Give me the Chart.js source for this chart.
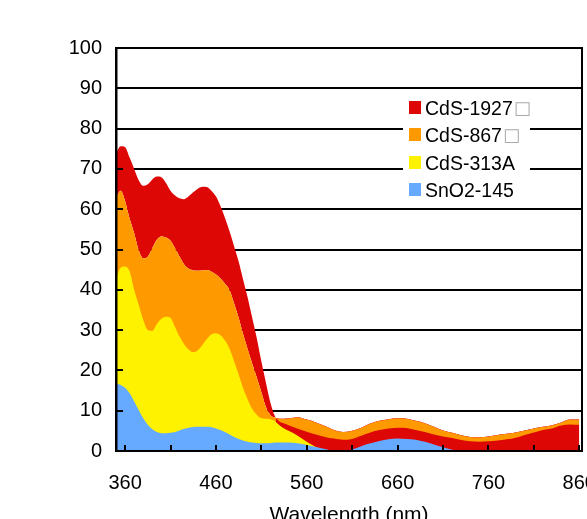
<!DOCTYPE html>
<html>
<head>
<meta charset="utf-8">
<script src="https://cdn.jsdelivr.net/npm/chart.js@4.4.1/dist/chart.umd.min.js"></script>
<style>
  html, body { margin: 0; padding: 0; background: #fff; overflow: hidden; }
  #wrap { position: relative; width: 620px; height: 545px; }
  #chart { position: absolute; left: 0; top: 0; }
  #legend {
    position: absolute; left: 403px; top: 92px; width: 127px; height: 112px;
    background: #fff; font-family: "Liberation Sans", Arial, sans-serif;
    font-size: 19.5px; color: #000;
  }
  .item { position: absolute; left: 0; height: 22px; line-height: 22px; white-space: nowrap; }
  .swatch { position: absolute; left: 6px; top: 4px; width: 12px; height: 13px; }
  .label { position: absolute; left: 22px; top: 0; }
  .tofu { color: #aaa; font-size: 18px; font-family: "DejaVu Sans", sans-serif; position: relative; top: -1px; margin-left: 1px; }
</style>
</head>
<body>
<div id="wrap">
  <canvas id="chart" width="620" height="545"></canvas>
  <div id="legend"></div>
</div>
<script>
const RED = "#dd0806";
const ORANGE = "#ff9900";
const YELLOW = "#fff200";
const BLUE = "#66aaff";

const wavelengths = [
  350, 355, 360, 365, 370, 375, 380, 385, 390, 395,
  400, 405, 410, 415, 420, 425, 430, 435, 440, 445,
  450, 455, 460, 465, 470, 475, 480, 485, 490, 495,
  500, 505, 510, 515, 520, 525, 530, 535, 540,
  550, 560, 570, 580, 590, 600, 610, 620, 630, 640,
  650, 660, 670, 680, 690, 700, 710, 720, 730, 740,
  750, 760, 770, 780, 790, 800, 810, 820, 830, 840,
  850, 860
];

const cds1927 = [
  73.8, 75.6, 75.4, 72.8, 70.0, 67.2, 65.8, 66.2, 67.4, 68.1,
  67.9, 66.5, 64.6, 63.4, 62.7, 62.5, 63.2, 64.2, 65.1, 65.6,
  65.5, 64.6, 63.2, 60.8, 57.8, 54.5, 50.8, 47.0, 42.5, 38.0,
  33.0, 28.0, 22.3, 17.0, 12.0, 8.6, 7.3, 6.8, 6.4,
  5.5, 4.8, 4.1, 3.5, 3.1, 2.8, 3.0, 3.8, 4.6, 5.2,
  5.6, 5.8, 5.7, 5.2, 4.7, 4.1, 3.6, 3.2, 2.7, 2.4,
  2.3, 2.4, 2.6, 2.9, 3.3, 4.0, 4.6, 5.2, 5.6, 6.3,
  6.6, 6.5
];

const cds867 = [
  62.5, 64.6, 62.0, 57.6, 54.0, 49.8, 47.8, 48.2, 50.3, 52.4,
  53.2, 53.0, 52.2, 50.3, 48.2, 46.3, 45.2, 44.8, 44.7, 44.8,
  44.9, 44.5, 43.8, 42.8, 41.5, 39.9, 36.6, 33.0, 28.9, 25.2,
  21.6, 18.2, 14.6, 10.9, 8.9, 8.3, 8.0, 8.0, 8.1,
  8.4, 7.8, 7.1, 6.2, 5.2, 4.7, 5.0, 5.8, 6.8, 7.5,
  7.9, 8.1, 8.0, 7.5, 6.9, 6.0, 5.1, 4.5, 3.9, 3.5,
  3.4, 3.6, 4.0, 4.3, 4.6, 5.1, 5.6, 6.0, 6.4, 7.1,
  7.8, 7.8
];

const cds313A = [
  42.5, 45.5, 45.8, 44.6, 40.0, 36.3, 32.5, 30.0, 29.8, 31.5,
  32.8, 33.3, 33.0, 30.8, 28.4, 26.5, 25.2, 24.5, 25.0, 26.3,
  27.8, 28.9, 29.2, 28.7, 27.4, 25.4, 22.3, 19.0, 15.6, 12.8,
  10.4, 9.0, 8.1, 8.0, 7.9, 7.4, 6.4, 5.6, 5.0,
  3.8, 2.3, 1.0, 0.2, 0, 0, 0, 0, 0, 0,
  0, 0, 0, 0, 0, 0, 0, 0, 0, 0,
  0, 0, 0, 0, 0, 0, 0, 0, 0, 0,
  0, 0
];

const sno2145 = [
  16.8, 16.4, 15.7, 14.3, 12.3, 10.2, 8.1, 6.5, 5.4, 4.7,
  4.4, 4.4, 4.5, 4.7, 5.1, 5.5, 5.8, 5.95, 6.0, 6.0,
  6.0, 5.9, 5.6, 5.2, 4.7, 4.1, 3.5, 3.0, 2.6, 2.3,
  2.1, 2.0, 1.9, 1.9, 2.0, 2.1, 2.1, 2.1, 2.1,
  1.9, 1.5, 1.0, 0.5, 0, 0, 0.4, 1.2, 1.9, 2.5,
  2.9, 3.1, 3.0, 2.8, 2.3, 1.6, 0.9, 0.3, 0, 0,
  0, 0, 0, 0, 0, 0, 0, 0, 0, 0,
  0, 0
];

const seriesNames = ["CdS-1927\u25a1", "CdS-867\u25a1", "CdS-313A", "SnO2-145"];
const seriesColors = [RED, ORANGE, YELLOW, BLUE];

const xTickValues = [360, 410, 460, 510, 560, 610, 660, 710, 760, 810, 860];
const xTickLabels = ["360", "", "460", "", "560", "", "660", "", "760", "", "860"];
const yTickValues = [0, 10, 20, 30, 40, 50, 60, 70, 80, 90, 100];

const FONT = "'Liberation Sans', Arial, sans-serif";

function points(values) {
  return wavelengths.map((w, i) => ({ x: w, y: values[i] }));
}

// wavelength where CdS-1927 drops below CdS-867
function crossoverNm() {
  for (let i = 0; i < wavelengths.length - 1; i++) {
    const d0 = cds1927[i] - cds867[i];
    const d1 = cds1927[i + 1] - cds867[i + 1];
    if (d0 >= 0 && d1 < 0) {
      return wavelengths[i] + (wavelengths[i + 1] - wavelengths[i]) * d0 / (d0 - d1);
    }
  }
  return wavelengths[wavelengths.length - 1];
}

// the part of the 867 area under the 1927 curve shows orange on the left, red on the right
function orangeFill(context) {
  const chart = context.chart;
  const area = chart.chartArea;
  const xScale = chart.scales.x;
  if (!area || !xScale) return ORANGE;
  const px = xScale.getPixelForValue(crossoverNm());
  const f = Math.min(Math.max((px - area.left) / (area.right - area.left), 0), 1);
  const g = chart.ctx.createLinearGradient(area.left, 0, area.right, 0);
  g.addColorStop(0, ORANGE);
  g.addColorStop(f, ORANGE);
  g.addColorStop(f, RED);
  g.addColorStop(1, RED);
  return g;
}

const frameAndTicks = {
  id: "frameAndTicks",
  afterDatasetsDraw(chart) {
    const { ctx, chartArea: a, scales } = chart;
    ctx.save();
    ctx.strokeStyle = "#000";
    ctx.lineWidth = 2;
    ctx.beginPath();
    for (const v of yTickValues) {
      const py = Math.round(scales.y.getPixelForValue(v));
      ctx.moveTo(a.left, py);
      ctx.lineTo(a.left + 7, py);
    }
    for (const v of xTickValues) {
      const px = Math.round(scales.x.getPixelForValue(v));
      ctx.moveTo(px, a.bottom);
      ctx.lineTo(px, a.bottom - 6);
    }
    ctx.stroke();
    ctx.strokeRect(a.left, Math.round(a.top), a.right - a.left, Math.round(a.bottom) - Math.round(a.top));
    ctx.lineWidth = 2.5;
    ctx.beginPath();
    ctx.moveTo(a.left + 0.25, a.top);
    ctx.lineTo(a.left + 0.25, a.bottom + 1);
    ctx.stroke();
    ctx.restore();
  }
};

Chart.defaults.color = "#000";
Chart.defaults.font.family = FONT;

const common = { borderWidth: 0, pointRadius: 0, cubicInterpolationMode: "monotone" };

new Chart(document.getElementById("chart"), {
  type: "line",
  data: {
    datasets: [
      {
        ...common,
        label: seriesNames[0],
        data: points(cds1927),
        order: 2,
        fill: { target: 1, above: RED, below: ORANGE },
        backgroundColor: RED,
      },
      {
        ...common,
        label: seriesNames[1],
        data: points(cds867),
        order: 3,
        fill: "origin",
        backgroundColor: orangeFill,
      },
      {
        ...common,
        label: seriesNames[2],
        data: points(cds313A),
        order: 1,
        fill: "origin",
        backgroundColor: YELLOW,
      },
      {
        ...common,
        label: seriesNames[3],
        data: points(sno2145),
        order: 0,
        fill: "origin",
        backgroundColor: BLUE,
      },
    ],
  },
  options: {
    responsive: false,
    animation: false,
    devicePixelRatio: 1,
    layout: { padding: { left: 0, top: 48, right: 38, bottom: 0 } },
    plugins: {
      legend: { display: false },
      tooltip: { enabled: false },
    },
    scales: {
      x: {
        type: "linear",
        min: 350,
        max: 863,
        afterFit(scale) { scale.height = 94; },
        afterBuildTicks(scale) { scale.ticks = xTickValues.map((v) => ({ value: v })); },
        grid: { display: false, drawTicks: false },
        border: { display: false },
        ticks: {
          autoSkip: false,
          maxRotation: 0,
          padding: 20,
          font: { size: 20 },
          callback(value) {
            const i = xTickValues.indexOf(value);
            return i >= 0 ? xTickLabels[i] : "";
          },
        },
        title: {
          display: true,
          text: "Wavelength (nm)",
          font: { size: 21 },
          padding: { top: 0, bottom: 17 },
        },
      },
      y: {
        min: 0,
        max: 100,
        afterFit(scale) { scale.width = 116; },
        grid: { color: "#000", lineWidth: 2, drawTicks: false },
        border: { display: false },
        ticks: { stepSize: 10, padding: 14, font: { size: 20 } },
      },
    },
  },
  plugins: [frameAndTicks],
});

const legendEl = document.getElementById("legend");
seriesNames.forEach((name, i) => {
  const item = document.createElement("div");
  item.className = "item";
  item.style.top = (4.7 + i * 27.5) + "px";
  const sw = document.createElement("span");
  sw.className = "swatch";
  sw.style.background = seriesColors[i];
  const lab = document.createElement("span");
  lab.className = "label";
  if (name.endsWith("\u25a1")) {
    lab.textContent = name.slice(0, -1);
    const t = document.createElement("span");
    t.className = "tofu";
    t.textContent = "\u25a1";
    lab.appendChild(t);
  } else {
    lab.textContent = name;
  }
  item.appendChild(sw);
  item.appendChild(lab);
  legendEl.appendChild(item);
});
</script>
</body>
</html>
